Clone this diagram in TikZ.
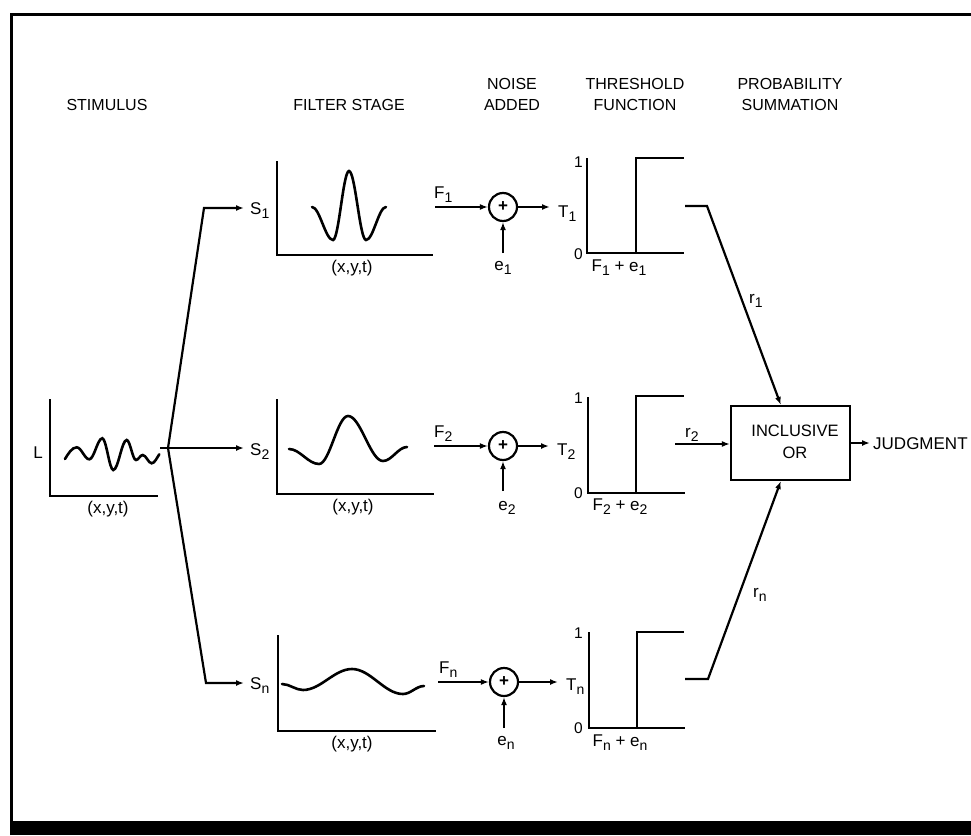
\documentclass[tikz,border=0pt]{standalone}
\usepackage{fontspec}
\setmainfont{Liberation Sans}
\usetikzlibrary{arrows.meta,calc}
\newcommand\sbs[1]{\raisebox{-4pt}{\fontsize{14}{14}\selectfont #1}}
\tikzset{
  lbl/.style={font=\fontsize{17}{18}\selectfont, inner sep=0pt, text height=12.2pt, text depth=0pt},
  hdr/.style={font=\fontsize{16}{18}\selectfont, inner sep=0pt, anchor=base},
  dig/.style={font=\fontsize{15.5}{15}\selectfont, inner sep=0pt, anchor=base east},
  ax/.style={line width=2.6pt},
  crv/.style={line width=2.6pt, line cap=round},
  arr/.style={line width=2.2pt, -{Latex[length=8pt,width=6pt]}},
  sumnode/.style={circle, draw, line width=2.2pt, minimum size=28pt, inner sep=0pt, font=\fontsize{17}{17}\selectfont\bfseries},
  orbox/.style={draw, line width=2.2pt, minimum width=119pt, minimum height=74pt, inner sep=0pt, font=\fontsize{16.5}{22}\selectfont},
}
\begin{document}
\begin{tikzpicture}[x=1pt,y=-1pt]
\useasboundingbox (0,0) rectangle (971,835);
% frame
\draw[line width=3pt] (11,835) -- (11,14) -- (971,14);
\fill (11,821) rectangle (971,835);

% headers
\node[hdr] (hStim) at (107,110) {STIMULUS};
\node[hdr] (hFilt) at (349,110) {FILTER STAGE};
\node[hdr] (hNoiseA) at (512,89) {NOISE};
\node[hdr] (hNoiseB) at (512,110) {ADDED};
\node[hdr] (hThrA) at (635,89) {THRESHOLD};
\node[hdr] (hThrB) at (635,110) {FUNCTION};
\node[hdr] (hProbA) at (790,89) {PROBABILITY};
\node[hdr] (hProbB) at (790,110) {SUMMATION};

% stimulus plot
\draw[ax] (50,399) -- (50,496) -- (158,496);
\node[lbl, anchor=base] (Lbl) at (38,458) {L};
\node[lbl, anchor=base] (stimx) at (108,513) {(x,y,t)};
\draw[crv] (65,459) .. controls (68,454) and (72,447.3) .. (76.7,447.3)
 .. controls (81.3,447.3) and (84.7,459.3) .. (89.3,459.3)
 .. controls (94,459.3) and (97.6,438.3) .. (102.3,438.3)
 .. controls (106.3,438.3) and (109.3,470) .. (113.3,470)
 .. controls (118.2,470) and (121.8,440) .. (126.7,440)
 .. controls (130.1,440) and (132.6,460) .. (136,460)
 .. controls (138.4,460) and (140.3,455) .. (142.7,455)
 .. controls (146,455) and (148.4,463.3) .. (151.7,463.3)
 .. controls (154.7,463.3) and (157.3,457) .. (159.3,454.3);

% branching
\coordinate (so) at (160,448);
\coordinate (br) at (168,448);
\coordinate (c1) at (204,208);
\coordinate (cn) at (206,683);
\node[lbl, anchor=west] (S1) at (250,208) {S\sbs{1}};
\node[lbl, anchor=west] (S2) at (250,449) {S\sbs{2}};
\node[lbl, anchor=west] (Sn) at (250,683) {S\sbs{n}};
\draw[arr, shorten >=6pt] (so) -- (br) -- (S2.west |- so);
\draw[arr, shorten >=6pt] (br) -- (c1) -- (S1.west);
\draw[arr, shorten >=6pt] (br) -- (cn) -- (Sn.west);

% filter plots
\draw[ax] (277,161) -- (277,255) -- (433,255);
\draw[ax] (277,399) -- (277,494) -- (434,494);
\draw[ax] (278,635) -- (278,731) -- (436,731);
\node[lbl, anchor=base] (fx1) at (352,272) {(x,y,t)};
\node[lbl, anchor=base] (fx2) at (353,511) {(x,y,t)};
\node[lbl, anchor=base] (fxn) at (352,748) {(x,y,t)};
\draw[crv] (312,207) .. controls (319.6,207) and (325.4,240) .. (333,240)
 .. controls (338.8,240) and (343.2,171) .. (349,171)
 .. controls (355.2,171) and (359.8,240) .. (366,240)
 .. controls (373.3,240) and (378.7,207) .. (386,207);
\draw[crv] (289,449) .. controls (299.9,449) and (308.1,464) .. (319,464)
 .. controls (329.6,464) and (337.4,416) .. (348,416)
 .. controls (360.7,416) and (370.3,461) .. (383,461)
 .. controls (391.7,461) and (398.3,447) .. (407,447);
\draw[crv] (282,684) .. controls (289.6,684) and (295.4,690) .. (303,690)
 .. controls (320.8,690) and (334.2,669) .. (352,669)
 .. controls (370.6,669) and (384.4,694) .. (403,694)
 .. controls (410.6,694) and (416.4,686) .. (424,686);

% noise stage
\node[sumnode] (a1) at (503,207) {+};
\node[sumnode] (a2) at (503,446) {+};
\node[sumnode] (an) at (504,682) {+};
\coordinate (f1s) at (435,207);
\coordinate (f2s) at (434,446);
\coordinate (fns) at (438,682);
\node[lbl, anchor=base west] (F1) at (434,198) {F\sbs{1}};
\node[lbl, anchor=base west] (F2) at (434,437) {F\sbs{2}};
\node[lbl, anchor=base west] (Fn) at (439,673) {F\sbs{n}};
\draw[arr] (f1s) -- (a1);
\draw[arr] (f2s) -- (a2);
\draw[arr] (fns) -- (an);
\coordinate (e1s) at (503,253);
\coordinate (e2s) at (503,491);
\coordinate (ens) at (504,728);
\node[lbl, anchor=base] (e1) at (503,270) {e\sbs{1}};
\node[lbl, anchor=base] (e2) at (507,510) {e\sbs{2}};
\node[lbl, anchor=base] (en) at (506,745) {e\sbs{n}};
\draw[arr] (e1s) -- (a1);
\draw[arr] (e2s) -- (a2);
\draw[arr] (ens) -- (an);
\node[lbl, anchor=west] (T1) at (558,211) {T\sbs{1}};
\node[lbl, anchor=west] (T2) at (557,449) {T\sbs{2}};
\node[lbl, anchor=west] (Tn) at (566,684) {T\sbs{n}};
\draw[arr, shorten >=8pt] (a1.east) -- (a1.east -| T1.west);
\draw[arr, shorten >=8pt] (a2.east) -- (a2.east -| T2.west);
\draw[arr, shorten >=8pt] (an.east) -- (an.east -| Tn.west);

% threshold plots
\draw[ax] (587,158) -- (587,253) -- (684,253);
\draw[ax] (636,253) -- (636,158) -- (684,158);
\draw[ax] (588,397) -- (588,493) -- (685,493);
\draw[ax] (636,493) -- (636,396) -- (684,396);
\draw[ax] (589,632) -- (589,728) -- (685,728);
\draw[ax] (637,728) -- (637,632) -- (684,632);
\node[dig] (one1) at (583,167) {1};
\node[dig] (zero1) at (583,259) {0};
\node[dig] (one2) at (583,403) {1};
\node[dig] (zero2) at (583,498) {0};
\node[dig] (onen) at (583,638) {1};
\node[dig] (zeron) at (583,733) {0};
\node[lbl, anchor=base] (fe1) at (619,271) {F\sbs{1} + e\sbs{1}};
\node[lbl, anchor=base] (fe2) at (620,510) {F\sbs{2} + e\sbs{2}};
\node[lbl, anchor=base] (fen) at (620,746) {F\sbs{n} + e\sbs{n}};

% probability summation
\node[orbox] (or) at (790.5,443) {\raisebox{-3pt}{\begin{tabular}{@{\hspace{9pt}}c@{}}INCLUSIVE\\OR\end{tabular}}};
\coordinate (o1) at (685,206);
\coordinate (k1) at (707,206);
\coordinate (o2) at (675,444);
\coordinate (on) at (685,679);
\coordinate (kn) at (708,679);
\draw[arr] (o1) -- (k1) -- ($(or.north west)!0.42!(or.north east)$);
\draw[arr] (o2) -- (o2 -| or.west);
\draw[arr] (on) -- (kn) -- ($(or.south west)!0.42!(or.south east)$);
\node[lbl, anchor=base west] (r1) at (749,303) {r\sbs{1}};
\node[lbl, anchor=base west] (r2) at (685,437) {r\sbs{2}};
\node[lbl, anchor=base west] (rn) at (753,597) {r\sbs{n}};
\node[lbl, anchor=west] (judg) at (873,443) {JUDGMENT};
\draw[arr, shorten >=3pt] (or.east |- judg.west) -- (judg.west);
\end{tikzpicture}
\end{document}
